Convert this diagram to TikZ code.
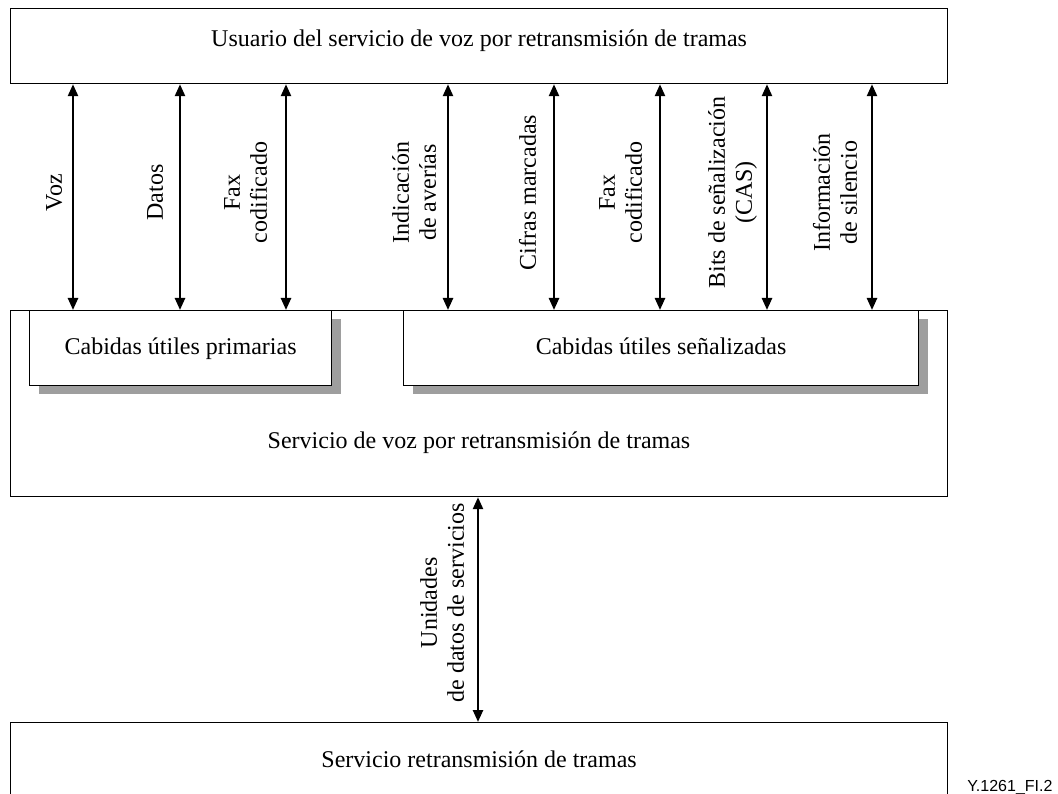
\documentclass[tikz,border=0pt]{standalone}
\usepackage{fontspec}
\setmainfont{Liberation Serif}
\newfontfamily\figfont{Liberation Sans}
\usetikzlibrary{shapes, arrows.meta, shadows}

\begin{document}
\begin{tikzpicture}[x=1pt, y=-1pt,
        every node/.style = {font=\fontsize{24}{27}\selectfont},
        box/.style = {draw, line width=1.2pt, fill=white, inner sep=0pt, anchor=north west},
        sub/.style = {box, text height=17pt, text depth=5pt, drop shadow={shadow xshift=9pt, shadow yshift=-8pt, fill=black!38, opacity=1}},
        flow/.style = {line width=2.4pt, {Triangle[length=12pt,width=10pt]}-{Triangle[length=12pt,width=10pt]}},
        lbl/.style = {rotate=90, above, align=center, pos=.52, text depth=0pt, inner xsep=0pt, inner ysep=#1},
        lbl/.default = 14pt]
                \useasboundingbox (0,0) rectangle (1058,794);

                \node[box, minimum width=937pt, minimum height=75pt, text depth=16pt] at (10,8) (usr) {Usuario del servicio de voz por retransmisión de tramas};
                \node[box, minimum width=937pt, minimum height=186pt] at (10,310) (svc) {};
                \node[anchor=base] at (479,448) (svctxt) {Servicio de voz por retransmisión de tramas};
                \node[sub, minimum width=302pt, minimum height=75pt] at (29,310) (prim) {Cabidas útiles primarias};
                \node[sub, minimum width=515pt, minimum height=75pt] at (403,310) (sig) {Cabidas útiles señalizadas};
                \node[box, minimum width=937pt, minimum height=74pt] at (10,722) (frs) {Servicio retransmisión de tramas};
                \node[anchor=base east, font=\figfont\fontsize{16}{18}\selectfont] at (1056,791) (fig) {Y.1261\_FI.2};

                \draw [flow] (svc.north -| 73,0) -- (usr.south -| 73,0) node[lbl=10pt] {Voz};
                \draw [flow] (svc.north -| 180,0) -- (usr.south -| 180,0) node[lbl=16pt] {Datos};
                \draw [flow] (svc.north -| 286,0) -- (usr.south -| 286,0) node[lbl=18pt] {Fax\\codificado};

                \draw [flow] (svc.north -| 448,0) -- (usr.south -| 448,0) node[lbl=11pt] {Indicación\\de averías};
                \draw [flow] (svc.north -| 554,0) -- (usr.south -| 554,0) node[lbl=17pt] {Cifras marcadas};
                \draw [flow] (svc.north -| 660,0) -- (usr.south -| 660,0) node[lbl=17pt] {Fax\\codificado};
                \draw [flow] (svc.north -| 767,0) -- (usr.south -| 767,0) node[lbl=14pt] {Bits de señalización\\(CAS)};
                \draw [flow] (svc.north -| 872,0) -- (usr.south -| 872,0) node[lbl=14pt] {Información\\de silencio};

                \draw [flow] (frs.north -| 478,0) -- (svc.south -| 478,0) node[lbl=13pt, pos=.53] {Unidades\\de datos de servicios};
            \end{tikzpicture}
\end{document}
